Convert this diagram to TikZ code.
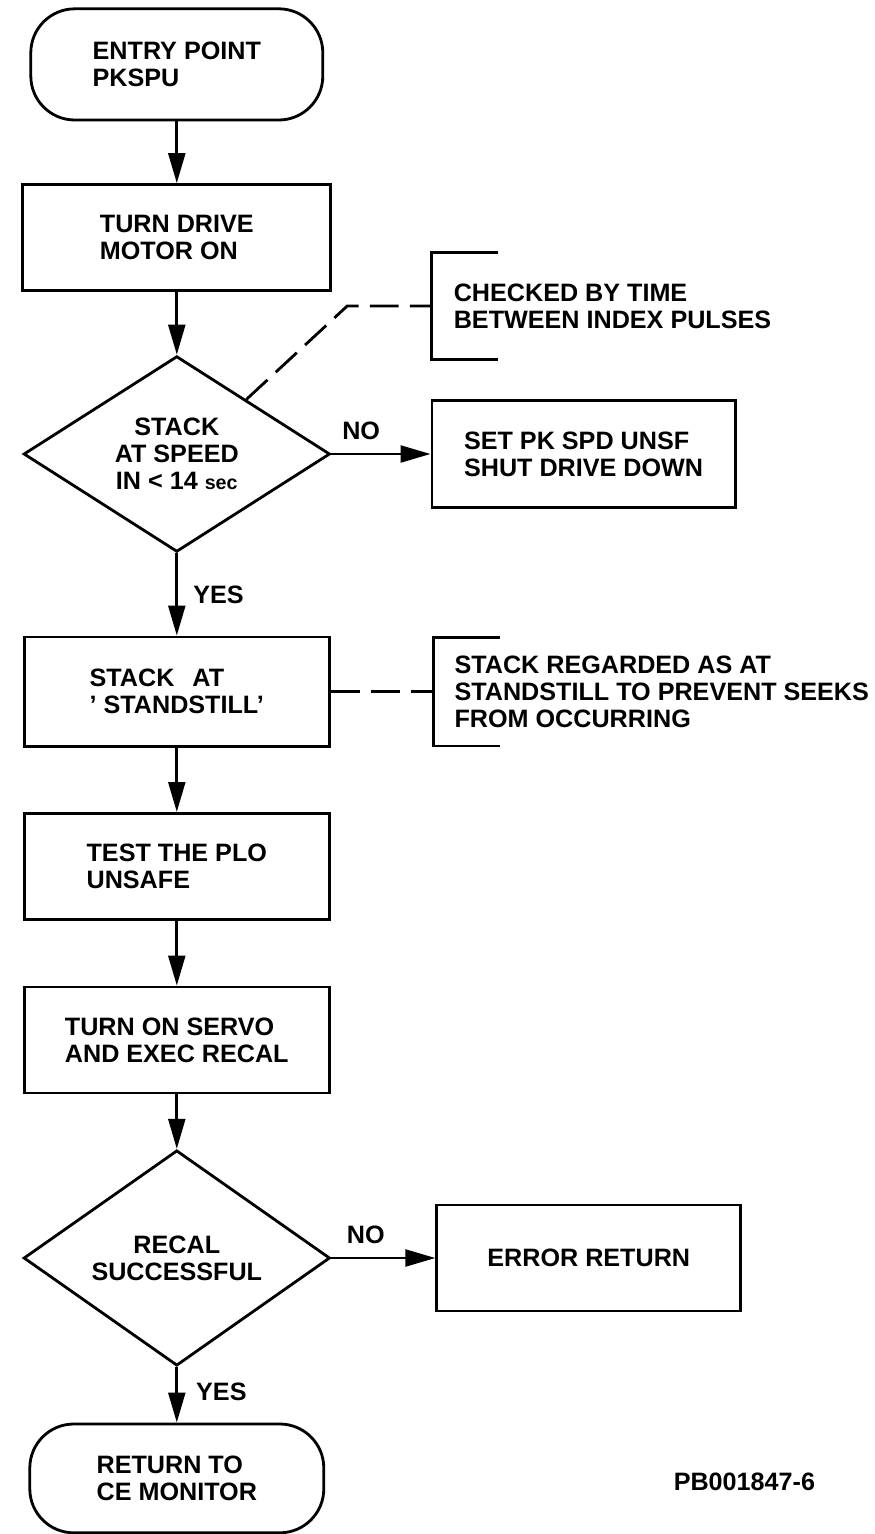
\documentclass[tikz,border=0pt]{standalone}
\usepackage{fontspec}
\setmainfont{Liberation Sans}
\usetikzlibrary{arrows.meta,shapes.geometric,calc}

\begin{document}
\begin{tikzpicture}[
  font=\bfseries\fontsize{17.9}{19.2}\selectfont,
  >={Triangle[length=0.75cm,width=0.42cm]},
  line width=2pt,
  stepbox/.style={draw, minimum width=7.63cm, minimum height=2.65cm, align=left, inner sep=0pt},
  term/.style={stepbox, rounded corners=1.1cm},
  test/.style={draw, diamond, minimum width=7.66cm, minimum height=4.85cm, align=center, inner sep=0pt},
  note/.style={anchor=west, minimum height=2.62cm, inner xsep=0.53cm, align=left},
  flow/.style={->},
  lead/.style={dash pattern=on 0.72cm off 0.28cm},
  lbl/.style={inner sep=0.1cm},
]
\useasboundingbox (0,0) rectangle (21.875,-38.35);
\node[term, minimum width=7.3cm, minimum height=2.78cm] (entry) at (4.42,-1.61) {ENTRY POINT\\PKSPU};
\node[stepbox, minimum width=7.7cm] (motor) at (4.42,-5.94) {TURN DRIVE\\MOTOR ON};
\node[test] (speed) at (4.42,-11.35) {STACK\\AT SPEED\\IN \textless{} 14 {\fontsize{14}{14}\selectfont sec}};
\node[stepbox, minimum width=7.58cm, minimum height=2.68cm] (unsf) at (14.59,-11.35) {SET PK SPD UNSF\\SHUT DRIVE DOWN};
\node[note] (chk) at (10.78,-7.65) {CHECKED BY TIME\\BETWEEN INDEX PULSES};
\node[stepbox, minimum height=2.73cm] (still) at (4.42,-17.29) {STACK\hspace{0.45cm}AT\\' STANDSTILL'};
\node[note, inner xsep=0.5cm, minimum height=2.65cm] (stillnote) at (10.83,-17.29) {STACK REGARDED AS AT\\STANDSTILL TO PREVENT SEEKS\\FROM OCCURRING};
\node[stepbox] (plo) at (4.42,-21.66) {TEST THE PLO\\UNSAFE};
\node[stepbox] (servo) at (4.42,-26.0) {TURN ON SERVO\\AND EXEC RECAL};
\node[test, minimum height=4.7cm] (recal) at (4.42,-31.45) {RECAL\\SUCCESSFUL};
\node[stepbox, minimum width=7.6cm, align=center] (err) at (14.72,-31.45) {ERROR RETURN};
\node[term, minimum width=7.35cm, minimum height=2.72cm] (ret) at (4.42,-36.96) {RETURN TO\\CE MONITOR};
\node (pbno) at (18.61,-37.05) {PB001847-6};
% main flow
\draw[flow] (entry) -- (motor);
\draw[flow] (motor) -- (speed);
\draw[flow] (speed) -- node[lbl, pos=0.3, above=0.22cm] {NO} (unsf);
\draw[flow] (speed) -- node[lbl, right=0.28cm] {YES} (still);
\draw[flow] (still) -- (plo);
\draw[flow] (plo) -- (servo);
\draw[flow] (servo) -- (recal);
\draw[flow] (recal) -- node[lbl, pos=0.33, above=0.22cm] {NO} (err);
\draw[flow] (recal) -- node[lbl, right=0.35cm, pos=0.45] {YES} (ret);
% notes
\draw ([xshift=1.68cm]chk.north west) -| (chk.south west) -- ++(1.68,0);
\draw ([xshift=1.68cm]stillnote.north west) -| (stillnote.south west) -- ++(1.68,0);
\draw[lead] ($(speed.north)!0.45!(speed.east)$) -- ($(chk.west)+(-2.1,0)$) -- (chk.west);
\draw[lead] (still) -- (stillnote);
\end{tikzpicture}
\end{document}
